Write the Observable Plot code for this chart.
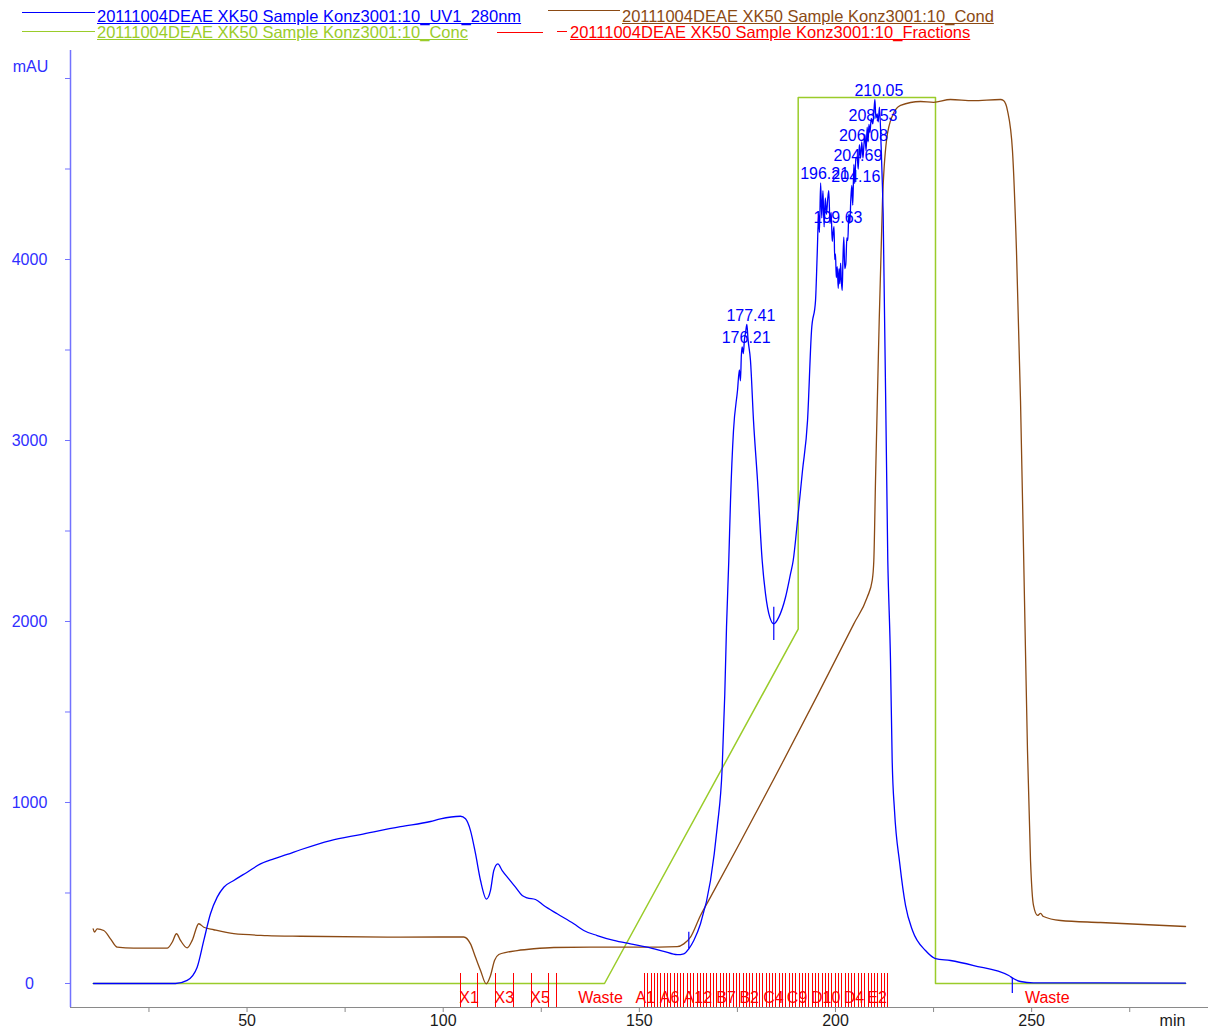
<!DOCTYPE html>
<html>
<head>
<meta charset="utf-8">
<script src="https://cdn.jsdelivr.net/npm/d3@7"></script>
<script src="https://cdn.jsdelivr.net/npm/@observablehq/plot@0.6"></script>
<style>
  body { margin: 0; background: #fff; font-family: "Liberation Sans", Arial, sans-serif; }
  #legend { position: relative; width: 1208px; height: 42px; }
  #legend .sw { position: absolute; height: 0; border-top: 1.3px solid; }
  #legend .lt { position: absolute; font-size: 16.5px; line-height: 20px; text-decoration: underline; white-space: nowrap; }
  #chart svg { display: block; }
</style>
</head>
<body>
<div id="legend"></div>
<div id="chart"></div>
<script>
// Run 20111004 DEAE XK50, sample Konz3001:10 — time in min
const runName = "20111004DEAE XK50 Sample Konz3001:10";

// UV 280 nm trace: [time (min), absorbance (mAU)]
const uvTrace = [
  [10.86,0],[31.76,0],[34.74,17],[37.29,90],[38.98,238],[40.68,385],[42.39,477],[44.07,532],
  [46.62,569],[50.04,615],[53.43,661],[56.82,689],[60.23,713],[63.63,739],[71.27,790],[78.92,823],
  [89.11,867],[96.76,895],[99.31,910],[104.41,924],[105.69,910],[106.96,845],[108.24,717],[109.52,569],
  [111.04,466],[112.06,514],[112.90,624],[113.92,661],[115.04,624],[116.72,578],[118.43,532],[120.14,486],
  [121.41,473],[123.53,464],[125.64,431],[129.06,385],[133.29,330],[135.84,293],[139.26,265],[143.49,238],
  [147.74,219],[152.00,201],[156.23,178],[159.65,159],[161.33,164],[162.61,192],[163.88,238],[165.59,330],
  [168.14,569],[169.85,864],[171.12,1195],[171.78,1600],[172.22,1969],[172.80,2337],[173.24,2669],[174.00,3055],
  [175.02,3276],[175.5,3390],[175.78,3330],[176.0,3470],[176.21,3517],[176.5,3480],[176.8,3560],[177.1,3600],
  [177.41,3641],[177.7,3560],[178.33,3442],[179.10,3110],[180.12,2779],[181.31,2337],[182.16,2153],[183.25,2024],
  [184.27,1987],[185.55,2024],[187.26,2134],[188.53,2263],[189.22,2337],[190.32,2558],[191.59,2834],[192.87,3110],
  [193.89,3608],[194.91,3773],[195.34,4031],[195.7,4250],[195.9,4150],[196.21,4423],[196.5,4230],[196.8,4380],
  [197.1,4180],[197.4,4340],[197.71,4250],[198.0,4330],[198.29,4381],[198.6,4200],[198.9,4260],[199.16,4100],
  [199.4,4150],[199.63,4182],[199.8,4000],[200.0,4031],[200.2,3900],[200.44,3960],[200.7,3840],[200.9,3950],
  [201.10,3866],[201.3,3980],[201.5,3880],[201.71,3829],[201.9,4000],[202.12,4123],[202.35,3950],[202.63,3976],
  [202.9,4120],[203.14,4105],[203.4,4250],[203.65,4200],[203.9,4330],[204.16,4409],[204.4,4300],[204.69,4525],
  [204.9,4420],[205.2,4560],[205.53,4565],[205.8,4500],[206.08,4635],[206.4,4560],[206.7,4650],[207.0,4560],
  [207.21,4621],[207.5,4690],[207.8,4600],[208.08,4731],[208.3,4650],[208.53,4746],[208.8,4700],[209.1,4780],
  [209.52,4750],[209.8,4820],[210.05,4884],[210.3,4780],[210.62,4805],[210.9,4760],[211.2,4842],[211.64,4621],
  [211.97,4400],[212.15,4252],[213.33,2337],[214.02,1785],[214.45,1232],[215.04,956],[216.39,661],[217.85,431],
  [219.63,293],[222.94,182],[225.49,138],[229.31,127],[235.25,99],[244.17,44],[245.45,26],[247.16,11],
  [250.47,4],[267.55,3],[289.23,2]
];

// Conductivity trace, shown on the mAU axis: [time (min), value]
const condTrace = [
  [10.78,302],[11.11,284],[11.80,302],[13.48,293],[15.19,247],[16.90,201],[21.13,195],[29.65,195],
  [30.92,228],[32.02,275],[33.04,238],[34.74,197],[36.02,238],[37.70,330],[38.98,311],[41.52,297],
  [46.62,275],[55.14,265],[63.63,261],[89.11,256],[99.31,257],[105.25,257],[106.96,219],[108.24,145],
  [109.52,72],[110.96,-2],[112.06,44],[113.08,127],[114.17,160],[116.31,173],[118.86,182],[123.09,192],
  [128.19,199],[137.55,201],[150.29,201],[159.65,204],[161.33,219],[163.04,256],[165.59,376],[168.14,477],
  [204.67,1987],[208.08,2134],[209.36,2227],[209.77,2337],[210.20,2779],[210.96,3497],[211.98,4326],[213.0,4657],
  [214.54,4796],[216.58,4851],[221.67,4873],[225.0,4868],[229.31,4884],[235.0,4878],[242.06,4884],[242.82,4878],
  [243.84,4823],[245.11,4602],[246.13,4050],[247.16,3221],[248.18,2116],[248.94,1287],[249.71,680],[250.47,431],
  [251.49,376],[252.26,387],[253.02,370],[257.35,348],[267.55,337],[289.23,315]
];

// Concentration of buffer B: [time (min), % B]
const concTrace = [
  [10.78,0],[141.12,0],[190.49,40],[190.49,100],[225.49,100],[225.49,0],[289.23,0]
];
const concFullScale = 4895; // mAU height of 100 % B

// Integration markers on the UV trace: time, low and high end (mAU)
const uvMarkers = [
  {t: 162.61, lo: 192, hi: 283},
  {t: 184.27, lo: 1895, hi: 2079},
  {t: 245.07, lo: -55, hi: 28}
];

// Labelled peak retention times and apex heights
const peakTimes   = [177.41, 176.21, 196.21, 199.63, 204.16, 204.69, 206.08, 208.53, 210.05];
const peakHeights = [3641,   3517,   4423,   4182,   4409,   4525,   4635,   4746,   4884];

// Fraction collector marks (min)
const fractionMarks = [
  104.41, 108.82, 113.33, 117.85, 122.43, 126.92, 128.96,
  151.31, 152.15, 152.99, 153.82, 154.66, 155.50, 156.34, 157.18, 158.01, 158.85,
  159.69, 160.53, 161.37, 162.20, 163.04, 163.88, 164.72, 165.56, 166.39, 167.23,
  168.07, 168.91, 169.75, 170.58, 171.42, 172.26, 173.10, 173.94, 174.77, 175.61,
  176.45, 177.29, 178.13, 178.96, 179.80, 180.64, 181.48, 182.32, 183.15, 183.99,
  184.83, 185.67, 186.51, 187.34, 188.18, 189.02, 189.86, 190.70, 191.53, 192.37,
  193.21, 194.05, 194.89, 195.72, 196.56, 197.40, 198.24, 199.08, 199.91, 200.75,
  201.59, 202.43, 203.27, 204.10, 204.94, 205.78, 206.62, 207.46, 208.29, 209.13,
  209.97, 210.81, 211.65, 212.49, 213.18
];
const fractionNames = ["X1", "X3", "X5", "Waste", "A1", "A6", "A12", "B7", "B2", "C4", "C9", "D10", "D4", "E2", "Waste"];
const fractionNameTimes = [106.6, 115.6, 124.7, 140.1, 151.5, 157.7, 164.9, 172.1, 178.0, 184.2, 190.2, 197.5, 204.7, 210.6, 254.0];
const fractionMarkTop = 54;

// Axis ticks
const xTickValues = [25, 50, 75, 100, 125, 150, 175, 200, 225, 250, 275];
const xTickLabels = [50, 100, 150, 200, 250];
const yTickValues = [0, 500, 1000, 1500, 2000, 2500, 3000, 3500, 4000, 4500, 5000];
const yTickLabels = [0, 1000, 2000, 3000, 4000];

const xDomain = [5.0, 295.08];
const yDomain = [-132.6, 5154.7];

const C = {
  uv: "#0000ff",
  cond: "#8b4a14",
  conc: "#9acc2a",
  frac: "#ff0000",
  yAxis: "#7272ff",
  yText: "#2f2fff",
  xAxis: "#8a8a8a",
  xText: "#1a1a1a"
};

// Legend
const legendItems = [
  {name: runName + "_UV1_280nm", color: C.uv, sw: [22, 73, 12], tx: 97, ty: 6},
  {name: runName + "_Cond", color: C.cond, sw: [548, 72, 10], tx: 622, ty: 6},
  {name: runName + "_Conc", color: C.conc, sw: [22, 73, 31], tx: 97, ty: 22},
  {name: runName + "_Fractions", color: C.frac, sw: [497, 46, 32], tx: 570, ty: 22, dash: [557, 10, 31]}
];
const legend = d3.select("#legend");
for (const it of legendItems) {
  legend.append("div").attr("class", "sw")
    .style("left", it.sw[0] + "px").style("width", it.sw[1] + "px").style("top", it.sw[2] + "px")
    .style("border-color", it.color);
  if (it.dash) {
    legend.append("div").attr("class", "sw")
      .style("left", it.dash[0] + "px").style("width", it.dash[1] + "px").style("top", it.dash[2] + "px")
      .style("border-color", it.color);
  }
  legend.append("div").attr("class", "lt")
    .style("left", it.tx + "px").style("top", it.ty + "px").style("color", it.color)
    .text(it.name);
}

const uv = uvTrace.map(([t, v]) => ({t, v}));
const cond = condTrace.map(([t, v]) => ({t, v}));
const conc = concTrace.map(([t, pct]) => ({t, pct}));
const peaks = peakTimes.map((t, i) => ({t, h: peakHeights[i]}));
const fracLabels = fractionNames.map((label, i) => ({label, t: fractionNameTimes[i]}));

const chart = Plot.plot({
  width: 1208,
  height: 988,
  marginLeft: 70,
  marginRight: 0,
  marginTop: 8,
  marginBottom: 23,
  x: {domain: xDomain, axis: null},
  y: {domain: yDomain, axis: null},
  style: {fontFamily: "'Liberation Sans', Arial, sans-serif", fontSize: "16px", background: "#fff"},
  marks: [
    // axis lines
    Plot.ruleX([xDomain[0]], {stroke: C.yAxis, strokeWidth: 1.5}),
    Plot.ruleY([yDomain[0]], {stroke: C.xAxis, strokeWidth: 1}),
    Plot.axisY({ticks: yTickValues, tickSize: 5, stroke: C.yAxis, tickFormat: () => "", label: null}),
    Plot.axisX({ticks: xTickValues, tickSize: 5, stroke: C.xAxis, tickFormat: () => "", label: null}),
    Plot.text(yTickLabels, {y: d => d, text: d => String(d), frameAnchor: "left", dx: -41, textAnchor: "middle", lineAnchor: "middle", fill: C.yText, fontSize: 16}),
    Plot.text(xTickLabels, {x: d => d, text: d => String(d), frameAnchor: "bottom", dy: 13, lineAnchor: "middle", fill: C.xText, fontSize: 16}),
    Plot.text(["mAU"], {text: d => d, frameAnchor: "top-left", dx: -40, dy: 16, textAnchor: "middle", lineAnchor: "middle", fill: C.yText, fontSize: 16}),
    Plot.text(["min"], {text: d => d, frameAnchor: "bottom-right", dx: -36, dy: 13, textAnchor: "middle", lineAnchor: "middle", fill: C.xText, fontSize: 16}),

    // concentration and conductivity
    Plot.line(conc, {x: "t", y: d => d.pct * concFullScale / 100, stroke: C.conc, strokeWidth: 1.5}),
    Plot.line(cond, {x: "t", y: "v", stroke: C.cond, strokeWidth: 1.3, curve: "monotone-x"}),

    // fractions
    Plot.ruleX(fractionMarks, {y1: yDomain[0], y2: fractionMarkTop, stroke: C.frac, strokeWidth: 1, shapeRendering: "crispEdges"}),
    Plot.text(fracLabels, {x: "t", text: "label", frameAnchor: "bottom", dy: -10, lineAnchor: "middle", fill: C.frac, fontSize: 16}),

    // UV trace
    Plot.line(uv, {x: "t", y: "v", stroke: C.uv, strokeWidth: 1.3, curve: "monotone-x"}),
    Plot.ruleX(uvMarkers, {x: "t", y1: "lo", y2: "hi", stroke: C.uv, strokeWidth: 1.2}),

    // peak retention times
    Plot.text(peaks, {x: "t", y: "h", text: d => d.t.toFixed(2), dx: 4, dy: -9, lineAnchor: "middle", fill: C.uv, fontSize: 16})
  ]
});
document.getElementById("chart").appendChild(chart);
</script>
</body>
</html>
